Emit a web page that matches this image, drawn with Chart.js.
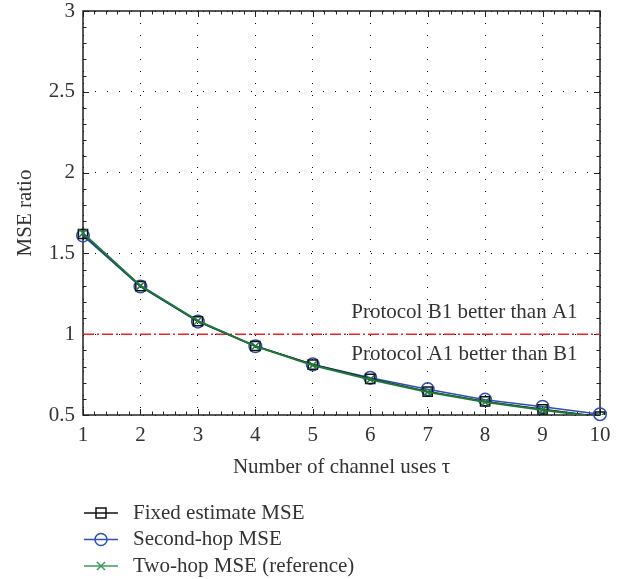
<!DOCTYPE html>
<html>
<head>
<meta charset="utf-8">
<script src="https://cdn.jsdelivr.net/npm/chart.js@4.4.1/dist/chart.umd.min.js"></script>
<style>
  html, body { margin: 0; padding: 0; background: #fff; }
</style>
</head>
<body>
<canvas id="mse_chart" width="629" height="579"></canvas>
<script>
// values
const channel_uses = [1, 2, 3, 4, 5, 6, 7, 8, 9, 10];
const fixed_mse = [1.62, 1.298, 1.08, 0.927, 0.812, 0.724, 0.645, 0.584, 0.535, 0.49];
const second_hop_mse = [1.61, 1.295, 1.078, 0.925, 0.813, 0.73, 0.66, 0.595, 0.551, 0.505];
const two_hop_mse = [1.625, 1.3, 1.082, 0.926, 0.808, 0.72, 0.642, 0.58, 0.531, 0.487];
const threshold_x = [1, 10];
const threshold_y = [1, 1];

const note_texts = ["Protocol B1 better than A1", "Protocol A1 better than B1"];
const note_x = [5.67, 5.67];
const note_y = [1.135, 0.875];

const serif = "'Liberation Serif', 'Times New Roman', serif";
const text_color = '#333';
const font_size = 21;

const canvas = document.getElementById('mse_chart');

const frame_plugin = {
    id: 'frame',
    beforeDatasetsDraw(chart) {
        const ctx = chart.ctx;
        const a = chart.chartArea;
        const xs = chart.scales.x;
        const ys = chart.scales.y;
        ctx.save();
        ctx.strokeStyle = '#222';
        ctx.lineWidth = 1;
        ctx.beginPath();
        // inward ticks, minor every 0.2 on x
        for (let i = 0; i <= 45; i++) {
            const px = Math.round(xs.getPixelForValue(1 + i * 0.2)) + 0.5;
            const len = i % 5 == 0 ? 6 : 3.5;
            ctx.moveTo(px, a.bottom); ctx.lineTo(px, a.bottom - len);
            ctx.moveTo(px, a.top); ctx.lineTo(px, a.top + len);
        }
        // minor every 0.1 on y
        for (let i = 0; i <= 25; i++) {
            const py = Math.round(ys.getPixelForValue(0.5 + i * 0.1)) + 0.5;
            const len = i % 5 == 0 ? 6 : 3.5;
            ctx.moveTo(a.left, py); ctx.lineTo(a.left + len, py);
            ctx.moveTo(a.right, py); ctx.lineTo(a.right - len, py);
        }
        ctx.stroke();
        ctx.lineWidth = 1.5;
        ctx.strokeRect(a.left, a.top, a.right - a.left, a.bottom - a.top);
        ctx.restore();
    },
    afterDraw(chart) {
        const ctx = chart.ctx;
        const a = chart.chartArea;
        const xs = chart.scales.x;
        const ys = chart.scales.y;
        ctx.save();
        ctx.font = font_size + 'px ' + serif;
        ctx.fillStyle = text_color;
        ctx.textBaseline = 'middle';
        ctx.textAlign = 'left';
        for (let i = 0; i < note_texts.length; i++) {
            ctx.fillText(note_texts[i], xs.getPixelForValue(note_x[i]), ys.getPixelForValue(note_y[i]));
        }

        // legend under the axis title: short line with the marker in the middle
        let row = 0;
        chart.data.datasets.forEach(ds => {
            if (!ds.in_legend) return;
            const y = a.bottom + 98 + row * 26.5;
            const x0 = a.left + 1, x1 = a.left + 35, xm = (x0 + x1) / 2;
            ctx.strokeStyle = ds.legend_color || ds.borderColor;
            ctx.lineWidth = 1.5;
            ctx.beginPath();
            ctx.moveTo(x0, y); ctx.lineTo(x1, y);
            ctx.stroke();
            ctx.beginPath();
            if (ds.pointStyle == 'rect') {
                ctx.rect(xm - 5, y - 5, 10, 10);
            } else if (ds.pointStyle == 'circle') {
                ctx.arc(xm, y, 6, 0, Math.PI * 2);
            } else {
                ctx.moveTo(xm - 4, y - 4); ctx.lineTo(xm + 4, y + 4);
                ctx.moveTo(xm - 4, y + 4); ctx.lineTo(xm + 4, y - 4);
            }
            ctx.stroke();
            ctx.fillStyle = text_color;
            ctx.fillText(ds.label, a.left + 50, y);
            row++;
        });
        ctx.restore();
    }
};

function to_points(xs, ys) {
    return xs.map((x, i) => ({ x: x, y: ys[i] }));
}

const mse_chart = new Chart(canvas, {
    type: 'line',
    data: {
        datasets: [{
            label: 'Fixed estimate MSE',
            data: to_points(channel_uses, fixed_mse),
            borderColor: '#111',
            borderWidth: 1.5,
            pointStyle: 'rect',
            pointRadius: 6.5,
            pointBorderWidth: 1.5,
            pointBackgroundColor: 'rgba(0,0,0,0)',
            clip: { left: 10, top: 10, right: 10, bottom: 0 },
            order: 1,
            in_legend: true
        }, {
            label: 'Second-hop MSE',
            data: to_points(channel_uses, second_hop_mse),
            borderColor: '#2e4fb8',
            borderWidth: 1.5,
            pointStyle: 'circle',
            pointRadius: 6.3,
            pointBorderWidth: 1.5,
            pointBackgroundColor: 'rgba(0,0,0,0)',
            clip: false,
            order: 2,
            in_legend: true
        }, {
            label: 'Two-hop MSE (reference)',
            data: to_points(channel_uses, two_hop_mse),
            borderColor: '#1f7a3a',
            legend_color: '#3b9a5c',
            borderWidth: 2,
            pointStyle: 'crossRot',
            pointRadius: 5.5,
            pointBorderWidth: 1.5,
            clip: { left: 10, top: 10, right: 10, bottom: 0 },
            order: 0,
            in_legend: true
        }, {
            label: 'threshold',
            data: to_points(threshold_x, threshold_y),
            borderColor: '#e8232a',
            borderWidth: 1.5,
            borderDash: [11, 3, 2, 3],
            pointRadius: 0,
            order: 3
        }]
    },
    options: {
        responsive: false,
        animation: false,
        layout: { padding: { top: 11, right: 29, left: 0, bottom: 99 } },
        plugins: {
            legend: { display: false },
            tooltip: { enabled: false }
        },
        scales: {
            x: {
                type: 'linear',
                min: 1,
                max: 10,
                ticks: {
                    stepSize: 1,
                    padding: 8,
                    color: text_color,
                    font: { family: serif, size: font_size }
                },
                grid: { color: '#000', lineWidth: 1, drawTicks: false },
                border: { display: false, dash: [1, 11] },
                title: {
                    display: true,
                    text: 'Number of channel uses τ',
                    color: text_color,
                    font: { family: serif, size: font_size },
                    padding: { top: 0, bottom: 0 }
                },
                afterFit: function (scale) {
                    scale.height = 65;
                    scale.paddingLeft = 0;
                    scale.paddingRight = 0;
                }
            },
            y: {
                min: 0.5,
                max: 3,
                ticks: {
                    stepSize: 0.5,
                    padding: 8,
                    color: text_color,
                    font: { family: serif, size: font_size },
                    callback: function (val) { return String(Math.round(val * 10) / 10); }
                },
                grid: { color: '#000', lineWidth: 1, drawTicks: false },
                border: { display: false, dash: [1, 11] },
                title: {
                    display: true,
                    text: 'MSE ratio',
                    color: text_color,
                    font: { family: serif, size: font_size },
                    padding: { top: 13, bottom: 0 }
                },
                afterFit: function (scale) {
                    scale.width = 83;
                    scale.paddingTop = 0;
                    scale.paddingBottom = 0;
                }
            }
        }
    },
    plugins: [frame_plugin]
});
</script>
</body>
</html>
